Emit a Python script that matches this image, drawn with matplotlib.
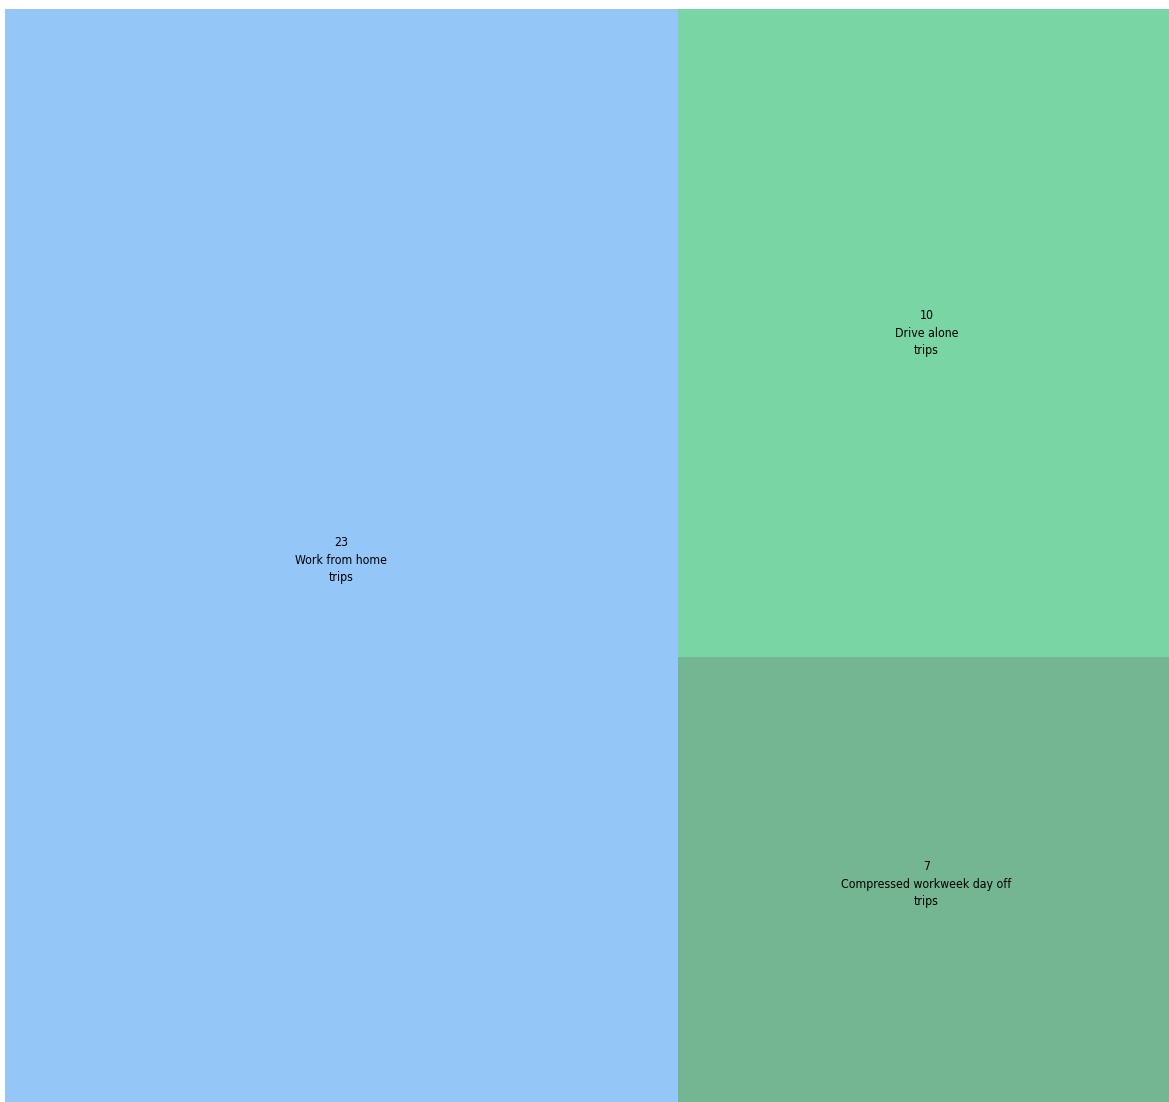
import matplotlib
matplotlib.use('Agg')
import matplotlib.pyplot as plt
import matplotlib.patches as patches
from matplotlib import font_manager as fm

# data
labels = ['Work from home', 'Drive alone', 'Compressed workweek day off']
values = [23, 10, 7]
colors = ['#94c7f8', '#7ad5a5', '#74b592']

names = {f.name for f in fm.fontManager.ttflist}
label_family = 'DejaVu Sans'
for cand in ['DejaVu Sans Condensed', 'Liberation Sans Narrow']:
    if cand in names:
        label_family = cand
        break

fig = plt.figure(figsize=(11.69, 11.02), dpi=100)
# the plot area runs slightly past the right and bottom edges of the figure
ax = fig.add_axes([5 / 1169, -9 / 1102, 1170 / 1169, 1102 / 1102])
ax.set_xlim(0, 1)
ax.set_ylim(0, 1)
ax.set_axis_off()

# simple treemap: first item takes a vertical slice, rest stacked on the right
total = sum(values)
w0 = values[0] / total
rects = [(0, 0, w0, 1)]
rest = sum(values[1:])
top = 1.0
for v in values[1:]:
    h = v / rest
    rects.append((w0, top - h, 1 - w0, h))
    top -= h

for (x, y, w, h), lab, val, c in zip(rects, labels, values, colors):
    ax.add_patch(patches.Rectangle((x, y), w, h, facecolor=c, edgecolor='none'))
    ax.text(x + w / 2, y + h / 2, f'{val}\n{lab}\ntrips', ha='center', va='center',
            fontsize=8.8, color='black', linespacing=1.45, family=label_family,
            fontstretch='condensed')

fig.text(0.38, 1.0, 'Trips reduced by strategy', ha='center', va='bottom', fontsize=16)

plt.savefig('out.png', dpi=100)
